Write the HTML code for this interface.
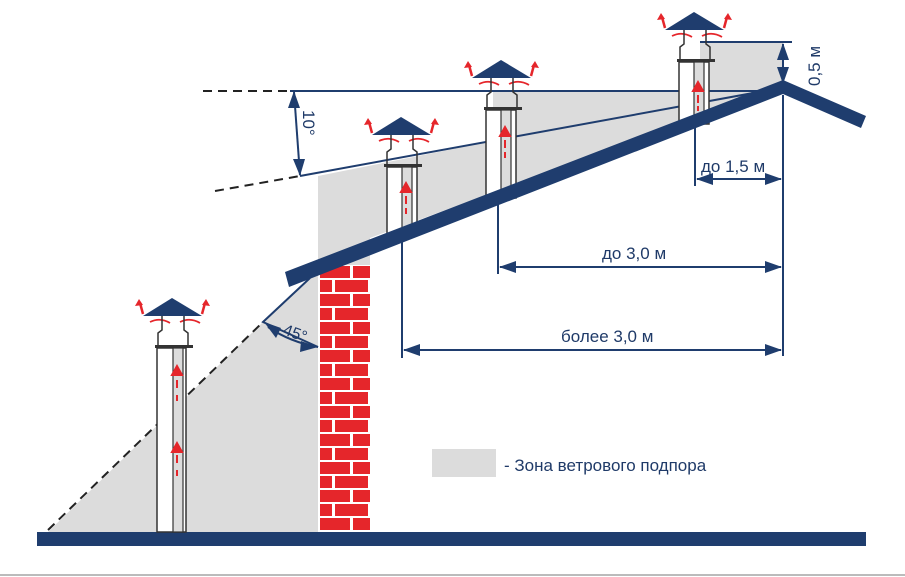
<!DOCTYPE html>
<html><head><meta charset="utf-8"><style>
html,body{margin:0;padding:0;background:#fff}
svg{display:block}
text{font-family:"Liberation Sans",sans-serif;fill:#1f3a68}
</style></head><body>
<svg width="905" height="577" viewBox="0 0 905 577" xmlns="http://www.w3.org/2000/svg">
<defs>
<pattern id="brick" x="318" y="265" width="52" height="28" patternUnits="userSpaceOnUse">
<rect width="52" height="28" fill="#fff"/>
<rect x="2" y="1" width="30" height="12" fill="#e5262b"/>
<rect x="35" y="1" width="17" height="12" fill="#e5262b"/>
<rect x="2" y="15" width="12" height="12" fill="#e5262b"/>
<rect x="17" y="15" width="33" height="12" fill="#e5262b"/>
</pattern>
<g id="ch">
<polygon points="-29,18 0,0 30,18" fill="#1f3d6e"/>
<path d="M-29,16 l-3,-11" stroke="#e5262b" stroke-width="2.5" fill="none"/>
<polygon points="-33,1 -37,8 -29,7" fill="#e5262b"/>
<path d="M30,16 l3,-11" stroke="#e5262b" stroke-width="2.5" fill="none"/>
<polygon points="34,1 30,7 38,8" fill="#e5262b"/>
<path d="M-22,24 q10,-5 20,1 M8,24 q10,-5 20,1" stroke="#e5262b" stroke-width="1.8" fill="none"/>
<path d="M-10,18 v14 l-4,3 v13 M12,18 v14 l4,3 v13" stroke="#333" stroke-width="1.5" fill="none"/>
<rect x="-17" y="47" width="38" height="3" fill="#333"/>
</g>
</defs>
<polygon points="48,532 263,322 318,270 318,176 493,141 493,91 700,91 700,42 783,42 783,85 370,238 370,532" fill="#dcdcdc"/>
<rect x="318" y="265" width="52" height="267" fill="url(#brick)"/>
<rect x="37" y="532" width="829" height="14" fill="#1f3d6e"/>
<line x1="48" y1="530" x2="263" y2="322" stroke="#222" stroke-width="2" stroke-dasharray="9,6"/>
<line x1="203" y1="91" x2="290" y2="91" stroke="#222" stroke-width="2" stroke-dasharray="9,6"/>
<line x1="215" y1="191" x2="300" y2="176" stroke="#222" stroke-width="2" stroke-dasharray="9,6"/>
<g stroke="#1f3d6e" stroke-width="2" fill="none">
<line x1="290" y1="91" x2="783" y2="91"/>
<line x1="300" y1="176" x2="775" y2="89"/>
<line x1="700" y1="42" x2="792" y2="42"/>
<polyline points="310,278 263,322 318,347"/>
<path d="M268,327 Q290,342 318,347"/>
<line x1="294" y1="92" x2="300" y2="175"/>
<line x1="783" y1="44" x2="783" y2="84"/>
<line x1="783" y1="95" x2="783" y2="356"/>
<line x1="695" y1="100" x2="695" y2="186"/>
<line x1="498" y1="190" x2="498" y2="274"/>
<line x1="402" y1="228" x2="402" y2="358"/>
<line x1="697" y1="179" x2="781" y2="179"/>
<line x1="500" y1="267" x2="781" y2="267"/>
<line x1="404" y1="350" x2="781" y2="350"/>
</g>
<g fill="#1f3d6e">
<polygon points="294,91 288,108 300,108"/><polygon points="300,176 293,159 305,159"/>
<polygon points="783,43 777,60 789,60"/><polygon points="783,84 777,67 789,67"/>
<polygon points="696,179 713,173 713,185"/><polygon points="782,179 765,173 765,185"/>
<polygon points="499,267 516,261 516,273"/><polygon points="782,267 765,261 765,273"/>
<polygon points="403,350 420,344 420,356"/><polygon points="782,350 765,344 765,356"/>
<polygon points="264,322 276,338 281,328"/><polygon points="318,347 301,341 300,352"/>
</g>
<g>
<use href="#ch" x="172" y="298"/>
<rect x="157" y="348" width="29" height="184" fill="#fff" stroke="#333" stroke-width="1.5"/>
<rect x="173" y="348" width="10" height="184" fill="#dcdcdc" stroke="#333" stroke-width="1.2"/>
</g>
<g>
<use href="#ch" x="401" y="117"/>
<rect x="387" y="167" width="30" height="68" fill="#fff" stroke="#333" stroke-width="1.5"/>
<rect x="402" y="167" width="10" height="68" fill="#dcdcdc" stroke="#333" stroke-width="1.2"/>
</g>
<g>
<use href="#ch" x="501" y="60"/>
<rect x="486" y="110" width="30" height="88" fill="#fff" stroke="#333" stroke-width="1.5"/>
<rect x="501" y="110" width="10" height="88" fill="#dcdcdc" stroke="#333" stroke-width="1.2"/>
</g>
<g>
<use href="#ch" x="694" y="12"/>
<rect x="679" y="62" width="30" height="62" fill="#fff" stroke="#333" stroke-width="1.5"/>
<rect x="694" y="62" width="10" height="62" fill="#dcdcdc" stroke="#333" stroke-width="1.2"/>
</g>
<g stroke="#e5262b" stroke-width="2" fill="#e5262b">
<path d="M177,380 v8 M177,395 v6 M177,455 v8 M177,470 v6"/>
<polygon points="177,366 172,375 182,375"/><polygon points="177,443 172,452 182,452"/>
<path d="M406,196 v8 M406,208 v6"/><polygon points="406,183 401,192 411,192"/>
<path d="M505,140 v8 M505,152 v6"/><polygon points="505,127 500,136 510,136"/>
<path d="M698,95 v8 M698,106 v5"/><polygon points="698,82 693,91 703,91"/>
</g>
<polygon points="285,272 783,80 866,116 861,128 783,94 289,287" fill="#1f3d6e"/>
<text x="303" y="110" font-size="17" transform="rotate(90 303 110)">10°</text>
<text x="282" y="334" font-size="16" transform="rotate(20 282 334)">45°</text>
<text x="820" y="86" font-size="17" transform="rotate(-90 820 86)">0,5 м</text>
<text x="701" y="172" font-size="17">до 1,5 м</text>
<text x="602" y="259" font-size="17">до 3,0 м</text>
<text x="561" y="342" font-size="17">более 3,0 м</text>
<rect x="432" y="449" width="64" height="28" fill="#dcdcdc"/>
<text x="504" y="471" font-size="17">- Зона ветрового подпора</text>
<line x1="0" y1="575" x2="905" y2="575" stroke="#bbb" stroke-width="2"/>
</svg>
</body></html>
